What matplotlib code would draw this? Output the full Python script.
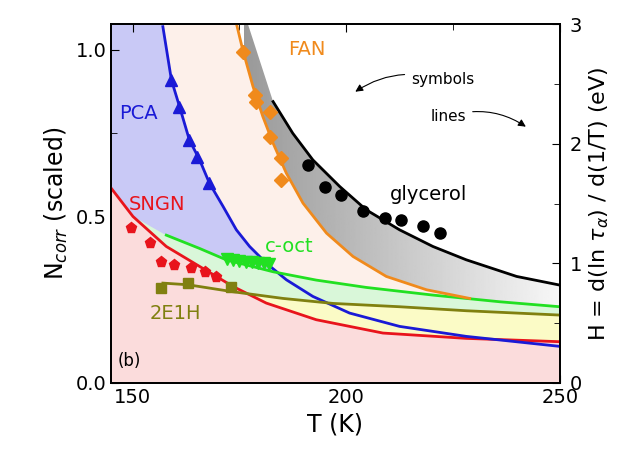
import numpy as np
import matplotlib.pyplot as plt
from matplotlib.ticker import MultipleLocator

# curves (N_corr scaled)
pca_T = [157.1, 159.1, 161.0, 163.3, 165.7, 168.0, 171.2, 174.3, 177.4, 181.3, 186.0, 192.2, 200.8, 212.5, 228.1, 250]
pca_N = [1.07, 0.91, 0.83, 0.73, 0.67, 0.60, 0.53, 0.46, 0.41, 0.36, 0.31, 0.26, 0.21, 0.17, 0.14, 0.11]
sngn_T = [145.0, 150.1, 157.9, 165.7, 173.5, 181.3, 193.0, 208.6, 228.1, 250]
sngn_N = [0.585, 0.50, 0.41, 0.35, 0.29, 0.24, 0.19, 0.15, 0.134, 0.124]
e1h_T = [157.1, 163.0, 173.5, 185.2, 196.9, 212.5, 228.1, 250]
e1h_N = [0.30, 0.295, 0.274, 0.254, 0.239, 0.229, 0.217, 0.204]
coct_T = [157.9, 165.7, 171.9, 182.9, 193.0, 204.7, 220.3, 235.9, 250]
coct_N = [0.444, 0.404, 0.37, 0.334, 0.309, 0.287, 0.264, 0.244, 0.229]
fan_T = [174.3, 175.8, 178.2, 180.5, 182.9, 186.0, 189.9, 195.4, 201.6, 209.4, 218.8, 228.9]
fan_N = [1.08, 1.0, 0.89, 0.80, 0.72, 0.63, 0.54, 0.45, 0.38, 0.32, 0.28, 0.254]
gly_T = [182.9, 187.5, 192.2, 198.5, 204.7, 212.5, 220.3, 228.1, 239.9, 250]
gly_N = [0.845, 0.75, 0.67, 0.59, 0.52, 0.46, 0.41, 0.37, 0.32, 0.294]

# symbols
pca_sT = [159.1, 160.8, 163.1, 165.2, 168]
pca_sN = [0.91, 0.83, 0.73, 0.68, 0.60]
sngn_sT = [149.7, 154.0, 156.7, 159.8, 163.7, 166.9, 169.6]
sngn_sN = [0.464, 0.42, 0.364, 0.354, 0.344, 0.334, 0.319]
e1h_sT = [156.7, 162.9, 173.1]
e1h_sN = [0.284, 0.30, 0.289]
coct_sT = [172.2, 173.6, 175.0, 176.5, 177.9, 179.3, 180.7, 182.0]
coct_sN = [0.372, 0.368, 0.366, 0.364, 0.362, 0.360, 0.360, 0.358]
fan_sT = [175.8, 178.6, 179.0, 182.1, 182.1, 184.8, 184.8]
fan_sN = [0.995, 0.865, 0.845, 0.815, 0.74, 0.675, 0.61]
gly_sT = [191.1, 195.0, 198.9, 204.0, 209.0, 212.9, 218.0, 221.9]
gly_sN = [0.655, 0.59, 0.565, 0.517, 0.495, 0.49, 0.471, 0.45]

TOP = 1.078
fig = plt.figure(figsize=(6.39, 4.62), dpi=100)
ax = fig.add_axes([0.174, 0.171, 0.702, 0.777])
ax.set_xlim(145, 250)
ax.set_ylim(0, TOP)

t = np.linspace(145, 250, 1000)
def curve(T, N, fill_left=TOP):
    return np.where(t < T[0], fill_left, np.interp(t, T, N))
red = curve(sngn_T, sngn_N)
blue = curve(pca_T, pca_N)
orange = np.where(t > fan_T[-1], 0, curve(fan_T, fan_N))
g0 = np.interp(150, sngn_T, sngn_N)
green = np.where(t < coct_T[0], g0 + (t - 150) / (coct_T[0] - 150) * (coct_N[0] - g0), curve(coct_T, coct_N))
olive = curve(e1h_T, e1h_N, 0)
black = np.where(t < gly_T[0], np.interp(t, [177.0, gly_T[0]], [TOP, gly_N[0]]), np.interp(t, gly_T, gly_N))
black = np.where(t < 177.0, TOP, black)

ax.fill_between(t, red, np.maximum(orange, red), color="#fdf0ea", lw=0)
low_g = np.maximum(np.maximum(orange, green), red)
poly = ax.fill_between(t, low_g, np.maximum(black, low_g), color="none", lw=0)
grad = np.linspace(0.6, 0.97, 256)[None, :]
im = ax.imshow(grad, cmap="gray", vmin=0, vmax=1, extent=[176, 250, 0, TOP], aspect="auto", zorder=1)
im.set_clip_path(poly.get_paths()[0], transform=ax.transData)
ax.fill_between(t, red, np.maximum(blue, red), color="#c9c9f6", lw=0, zorder=1.5)
mask_g = t >= 150
ax.fill_between(t[mask_g], red[mask_g], np.maximum(green, red)[mask_g], color="#d9f7d9", lw=0, zorder=1.6)
mask_y = t >= 176
ax.fill_between(t[mask_y], red[mask_y], np.maximum(olive, red)[mask_y], color="#fbfbc6", lw=0, zorder=1.7)
ax.fill_between(t, 0, red, color="#fbdcdc", lw=0, zorder=1.8)

ax.plot(sngn_T, sngn_N, color="#e8141c", lw=2, zorder=3)
ax.plot(pca_T, pca_N, color="#1a1ad6", lw=2, zorder=3)
ax.plot(coct_T, coct_N, color="#22e022", lw=2, zorder=3)
ax.plot(e1h_T, e1h_N, color="#808010", lw=2, zorder=3)
ax.plot(fan_T, fan_N, color="#f08a1c", lw=2, zorder=3)
ax.plot(gly_T, gly_N, color="black", lw=2, zorder=3)

ax.plot(pca_sT, pca_sN, "^", color="#1a1ad6", ms=8, zorder=4)
ax.plot(sngn_sT, sngn_sN, "p", color="#e8141c", ms=8, zorder=4)
ax.plot(e1h_sT, e1h_sN, "s", color="#808010", ms=7, zorder=4)
ax.plot(coct_sT, coct_sN, "v", color="#22e022", ms=8, zorder=4)
ax.plot(fan_sT, fan_sN, "D", color="#f08a1c", ms=7, zorder=4)
ax.plot(gly_sT, gly_sN, "o", color="black", ms=8, zorder=4)

fs = 14
ax.text(186.5, 1.0, "FAN", color="#f08a1c", fontsize=fs, va="center")
ax.text(146.8, 0.81, "PCA", color="#1a1ad6", fontsize=fs, va="center")
ax.text(149.0, 0.535, "SNGN", color="#e8141c", fontsize=fs, va="center")
ax.text(180.9, 0.41, "c-oct", color="#22e022", fontsize=fs, va="center")
ax.text(154.0, 0.21, "2E1H", color="#808010", fontsize=fs, va="center")
ax.text(210.2, 0.565, "glycerol", color="black", fontsize=fs, va="center")
ax.text(146.5, 0.065, "(b)", color="black", fontsize=12, va="center")
ax.annotate("symbols", xy=(201.6, 0.87), xytext=(215.3, 0.91), fontsize=11, va="center",
            arrowprops=dict(arrowstyle="-|>", color="black", lw=0.8, shrinkA=3,
                            connectionstyle="arc3,rad=0.25"))
ax.annotate("lines", xy=(242.6, 0.765), xytext=(228.0, 0.80), fontsize=11, va="center",
            ha="right",
            arrowprops=dict(arrowstyle="-|>", color="black", lw=0.8, shrinkA=3,
                            connectionstyle="arc3,rad=-0.25"))

ax.set_xlabel("T (K)", fontsize=17)
ax.set_ylabel("N$_{corr}$ (scaled)", fontsize=17)
ax.xaxis.set_major_locator(MultipleLocator(50))
ax.xaxis.set_minor_locator(MultipleLocator(25))
ax.yaxis.set_major_locator(MultipleLocator(0.5))
ax.yaxis.set_minor_locator(MultipleLocator(0.25))
ax.tick_params(which="both", direction="in", labelsize=14, top=True)
ax.tick_params(which="major", length=6)
ax.tick_params(which="minor", length=4)

ax2 = ax.twinx()
ax2.set_ylim(0, 3.0)
ax2.yaxis.set_major_locator(MultipleLocator(1))
ax2.yaxis.set_minor_locator(MultipleLocator(0.5))
ax2.tick_params(which="both", direction="in", labelsize=14, pad=7)
ax2.tick_params(which="major", length=6)
ax2.tick_params(which="minor", length=4)
ax2.set_ylabel(r"H = d(ln $\tau_{\alpha}$) / d(1/T) (eV)", fontsize=16)
for a in (ax, ax2):
    for s in a.spines.values():
        s.set_linewidth(1.3)

fig.savefig("out.png", dpi=100)
